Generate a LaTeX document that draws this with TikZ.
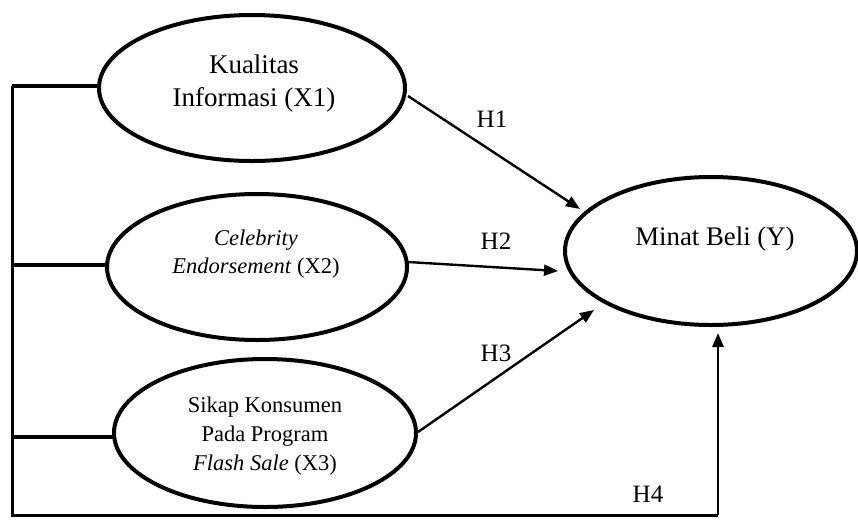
\documentclass[tikz,border=0pt]{standalone}
\usepackage{fontspec}
\setmainfont{Liberation Serif}
\usetikzlibrary{shapes.geometric,arrows.meta}
\begin{document}
\begin{tikzpicture}[x=0.5pt,y=-0.5pt,
  var/.style={draw,ellipse,line width=2pt,inner sep=0pt},
  lbl/.style={align=center,inner sep=0pt},
  conn/.style={line width=1.2pt,-{Triangle[length=7pt,width=5.5pt]}},
  frame/.style={line width=1.5pt},
  stub/.style={line width=2pt},
  hlab/.style={inner sep=0pt,font=\fontsize{12.5}{14}\selectfont}]
\useasboundingbox (0,0) rectangle (858,521);
% ellipses
\node[var,minimum width=153pt,minimum height=73pt] (x1) at (252,88) {};
\node[var,minimum width=150pt,minimum height=73pt] (x2) at (257,267) {};
\node[var,minimum width=151pt,minimum height=74pt] (x3) at (265,433) {};
\node[var,minimum width=146pt,minimum height=74pt] (y) at (711,251) {};
% texts
\node[lbl,font=\fontsize{13.5}{16.5}\selectfont] (t1) at (254,84) {Kualitas\\Informasi (X1)};
\node[lbl,font=\fontsize{11.25}{14}\selectfont] (t2) at (256,254) {\textit{Celebrity}\\\textit{Endorsement} (X2)};
\node[lbl,font=\fontsize{11.25}{14.5}\selectfont] (t3) at (265,436) {Sikap Konsumen\\Pada Program\\\textit{Flash Sale} (X3)};
\node[lbl,font=\fontsize{13.4}{16}\selectfont] (ty) at (715,239) {Minat Beli (Y)};
% connector end points
\coordinate (a1s) at (408,96);
\coordinate (a1e) at (580,209);
\coordinate (a2s) at (408,262);
\coordinate (a2e) at (558,271);
\coordinate (a3s) at (418,432);
\coordinate (a3e) at (594,310);
\coordinate (a4e) at (718,333);
\coordinate (c1) at (12,86);
\coordinate (c2) at (12,265);
\coordinate (c3) at (12,437);
\coordinate (c4) at (12,515);
\coordinate (c5) at (718,515);
\coordinate (s1) at (98,86);
\coordinate (s2) at (106,265);
\coordinate (s3) at (113,437);
% arrows
\draw[conn] (a1s) -- (a1e);
\draw[conn] (a2s) -- (a2e);
\draw[conn] (a3s) -- (a3e);
% frame
\draw[frame] (c1) -- (c4) -- (c5);
\draw[conn,line width=1.4pt] (c5) -- (a4e);
\draw[stub] (c1) -- (s1);
\draw[stub] (c2) -- (s2);
\draw[stub] (c3) -- (s3);
% labels
\node[hlab] (h1) at (492,119) {H1};
\node[hlab] (h2) at (496,241) {H2};
\node[hlab] (h3) at (496,353) {H3};
\node[hlab] (h4) at (648,494) {H4};
\end{tikzpicture}
\end{document}
